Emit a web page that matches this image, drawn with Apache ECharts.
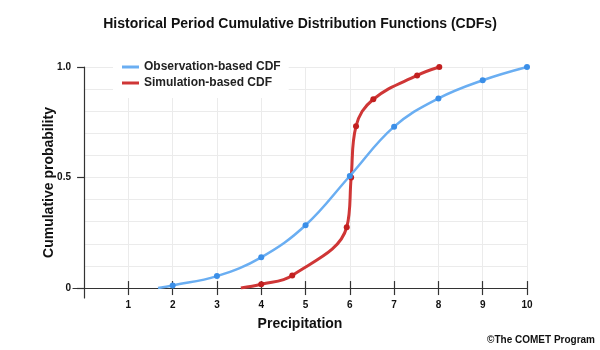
<!DOCTYPE html>
<html>
<head>
<meta charset="utf-8">
<script src="https://cdn.jsdelivr.net/npm/echarts@6/dist/echarts.min.js"></script>
<style>
  html, body { margin: 0; padding: 0; background: #fff; }
  #chart { width: 600px; height: 350px; }
</style>
</head>
<body>
<div id="chart"></div>
<script>
// values
const obsX = [1.67, 2, 3, 4, 5, 6, 7, 8, 9, 10]
const obsY = [0, 0.012, 0.054, 0.139, 0.284, 0.507, 0.73, 0.858, 0.94, 1.0]
const simX = [3.54, 4, 4.7, 5.93, 6.03, 6.14, 6.53, 7.52, 8.02]
const simY = [0, 0.017, 0.057, 0.275, 0.5, 0.732, 0.854, 0.962, 1.0]
const xTicks = [1, 2, 3, 4, 5, 6, 7, 8, 9, 10]
const yTicks = [0, 0.5, 1]
const yTickLabels = ['0', '0.5', '1.0']

const FONT = '"Liberation Sans", Arial, sans-serif'
const BLUE_LINE = '#6aaef2'
const BLUE_DOT = '#3b8fe8'
const RED_LINE = '#cf3636'
const RED_DOT = '#c21f1f'
const AXIS = '#333'

// first point of each curve is where the line starts, no marker there
const toData = (xs, ys) =>
  xs.map((x, i) => (i === 0 ? { value: [x, ys[i]], symbolSize: 0 } : [x, ys[i]]))

// outer grid holds the axes (they run a little past the origin),
// inner grid is exactly [0,10] x [0,1] and holds the gridlines and series
const L = 73, R = 73, T = 67, B = 52
const unitX = (600 - L - R) / 10.25
const unitY = (350 - T - B) / 1.045

const chart = echarts.init(document.getElementById('chart'))

chart.setOption({
  animation: false,
  textStyle: { fontFamily: FONT },
  title: {
    text: 'Historical Period Cumulative Distribution Functions (CDFs)',
    left: 'center',
    top: 12,
    textStyle: { fontSize: 14, fontWeight: 'bold', color: '#111', fontFamily: FONT },
  },
  legend: {
    orient: 'vertical',
    left: 113,
    top: 58,
    padding: [3, 8, 9, 9],
    itemGap: 4,
    itemWidth: 17,
    itemHeight: 3,
    backgroundColor: '#fff',
    textStyle: { fontSize: 12, fontWeight: 'bold', color: '#222', fontFamily: FONT },
    data: [
      { name: 'Observation-based CDF', icon: 'rect', itemStyle: { color: BLUE_LINE } },
      { name: 'Simulation-based CDF', icon: 'rect', itemStyle: { color: RED_LINE } },
    ],
  },
  grid: [
    { left: L + 0.25 * unitX, right: R, top: T, bottom: B + 0.045 * unitY },
    { left: L, right: R, top: T, bottom: B },
  ],
  xAxis: [
    {
      // inner axis: vertical gridlines plus the upper half of the crossing ticks
      gridIndex: 0,
      type: 'value',
      min: 0,
      max: 10,
      z: 1,
      axisLine: { show: true, lineStyle: { color: AXIS, opacity: 0 } },
      axisLabel: { show: false },
      axisTick: { show: true, inside: true, length: 7, customValues: xTicks, lineStyle: { color: AXIS, width: 1.2 } },
      splitLine: { show: true, lineStyle: { color: '#ebebeb' } },
    },
    {
      gridIndex: 1,
      type: 'value',
      min: -0.25,
      max: 10,
      z: 1,
      name: 'Precipitation',
      nameLocation: 'middle',
      nameGap: 19,
      nameMoveOverlap: false,
      nameTextStyle: { fontSize: 14, fontWeight: 'bold', color: '#111', fontFamily: FONT },
      axisLine: { onZero: true, lineStyle: { color: AXIS, width: 1.2 } },
      axisTick: { show: true, length: 7, customValues: xTicks, lineStyle: { color: AXIS, width: 1.2 } },
      axisLabel: {
        customValues: xTicks,
        margin: 2,
        fontSize: 10,
        fontWeight: 'bold',
        color: '#111',
      },
      splitLine: { show: false },
    },
  ],
  yAxis: [
    {
      gridIndex: 0,
      type: 'value',
      min: 0,
      max: 1,
      interval: 0.1,
      axisLine: { show: false },
      axisLabel: { show: false },
      axisTick: { show: false },
      splitLine: { show: true, lineStyle: { color: '#ebebeb' } },
    },
    {
      gridIndex: 1,
      type: 'value',
      min: -0.045,
      max: 1,
      z: 1,
      name: 'Cumulative probability',
      nameLocation: 'middle',
      nameGap: 17,
      nameMoveOverlap: false,
      nameTextStyle: { fontSize: 14, fontWeight: 'bold', color: '#111', fontFamily: FONT },
      axisLine: { onZero: true, lineStyle: { color: AXIS, width: 1.2 } },
      axisTick: { show: true, length: 7, customValues: yTicks, lineStyle: { color: AXIS, width: 1.2 } },
      axisLabel: {
        customValues: yTicks,
        margin: 2,
        fontSize: 10,
        fontWeight: 'bold',
        color: '#111',
        formatter: (v) => yTickLabels[yTicks.indexOf(Math.round(v * 10) / 10)] ?? '',
      },
      splitLine: { show: false },
    },
  ],
  series: [
    {
      name: 'Observation-based CDF',
      type: 'line',
      xAxisIndex: 0,
      yAxisIndex: 0,
      smooth: 0.4,
      symbol: 'circle',
      symbolSize: 6,
      data: toData(obsX, obsY),
      lineStyle: { width: 2.5, color: BLUE_LINE },
      itemStyle: { color: BLUE_DOT },
      z: 3,
    },
    {
      name: 'Simulation-based CDF',
      type: 'line',
      xAxisIndex: 0,
      yAxisIndex: 0,
      smooth: 0.4,
      symbol: 'circle',
      symbolSize: 6,
      data: toData(simX, simY),
      lineStyle: { width: 3, color: RED_LINE },
      itemStyle: { color: RED_DOT },
      z: 2,
    },
  ],
  graphic: [
    {
      type: 'text',
      right: 5,
      top: 335,
      style: {
        text: '©The COMET Program',
        font: 'bold 10px ' + FONT,
        fill: '#111',
      },
    },
  ],
})
</script>
</body>
</html>
